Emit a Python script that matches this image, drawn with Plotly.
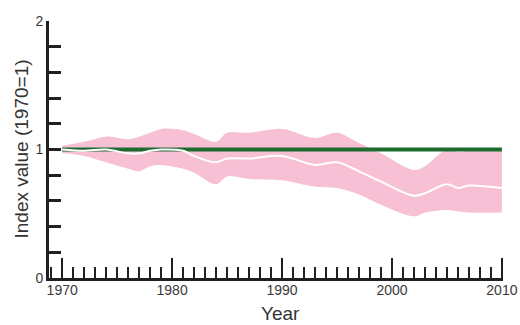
import plotly.graph_objects as go

years = [1970, 1972, 1974, 1976, 1977, 1978, 1979, 1981, 1982, 1984, 1985, 1987,
         1990, 1993, 1995, 1997, 1999, 2002, 2003, 2005, 2006, 2007, 2010]
upper = [1.03, 1.06, 1.10, 1.08, 1.10, 1.13, 1.16, 1.15, 1.12, 1.06, 1.13, 1.13,
         1.16, 1.09, 1.13, 1.05, 0.97, 0.84, 0.87, 1.00, 0.98, 0.99, 0.99]
lower = [0.97, 0.95, 0.90, 0.85, 0.83, 0.87, 0.88, 0.85, 0.82, 0.73, 0.79, 0.77,
         0.76, 0.71, 0.70, 0.65, 0.57, 0.48, 0.51, 0.53, 0.52, 0.51, 0.51]
mean = [1.00, 0.99, 1.00, 0.97, 0.97, 0.99, 1.00, 0.99, 0.95, 0.90, 0.93, 0.93,
        0.95, 0.88, 0.90, 0.83, 0.75, 0.64, 0.66, 0.73, 0.70, 0.72, 0.70]
baseline_years = [1970, 2010]
baseline = [1, 1]

y_ticks = [0, 1, 2]
x_ticks = [1970, 1980, 1990, 2000, 2010]
x_title = "Year"
y_title = "Index value (1970=1)"

family = "Liberation Sans, Arial, sans-serif"
tick_font = dict(family=family, size=14, color="#3a3a3a")
title_font = dict(family=family, size=19, color="#333333")

fig = go.Figure()
fig.add_trace(go.Scatter(x=years, y=upper, mode="lines", line=dict(width=0, shape="spline"),
                         hoverinfo="skip", showlegend=False))
fig.add_trace(go.Scatter(x=years, y=lower, mode="lines", line=dict(width=0, shape="spline"),
                         fill="tonexty", fillcolor="#f7c0d4", showlegend=False))
fig.add_trace(go.Scatter(x=baseline_years, y=baseline, mode="lines",
                         line=dict(color="#1e6b2e", width=4), showlegend=False))
fig.add_trace(go.Scatter(x=years, y=mean, mode="lines",
                         line=dict(color="white", width=2, shape="spline"), showlegend=False))

fig.update_layout(
    width=520, height=325,
    margin=dict(l=49, r=17, t=21, b=47),
    paper_bgcolor="white", plot_bgcolor="white",
    font=tick_font,
    annotations=[
        dict(text=x_title, xref="paper", yref="paper", x=0.51, y=0, yshift=-35,
             showarrow=False, font=title_font, xanchor="center", yanchor="middle"),
        dict(text=y_title, xref="paper", yref="paper", x=0, y=0.5, xshift=-28,
             showarrow=False, font=title_font, textangle=-90, xanchor="center", yanchor="middle"),
    ],
)
fig.update_xaxes(
    range=[1968.8, 2010.1], showgrid=False, zeroline=False, automargin=False,
    showline=True, linecolor="#231f20", linewidth=3,
    tickmode="array", tickvals=x_ticks, ticktext=[str(v) for v in x_ticks],
    ticks="inside", ticklen=20, tickwidth=2, tickcolor="#231f20",
    ticklabelstandoff=-3,
    minor=dict(dtick=1, ticks="inside", ticklen=11, tickwidth=2, tickcolor="#231f20", showgrid=False),
)
fig.update_yaxes(
    range=[0, 2], showgrid=False, zeroline=False, automargin=False,
    showline=True, linecolor="#231f20", linewidth=3,
    tickmode="array", tickvals=y_ticks, ticktext=[str(v) for v in y_ticks],
    ticks="inside", ticklen=12, tickwidth=3, tickcolor="#231f20",
    ticklabelstandoff=0,
    minor=dict(dtick=0.2, ticks="inside", ticklen=12, tickwidth=3, tickcolor="#231f20", showgrid=False),
)

# remove the browser's default 8px body margin so the figure fills the window exactly
fig.write_html("out.html",
               config={"displayModeBar": False},
               post_script="document.body.style.margin='0';document.body.style.overflow='hidden';")
